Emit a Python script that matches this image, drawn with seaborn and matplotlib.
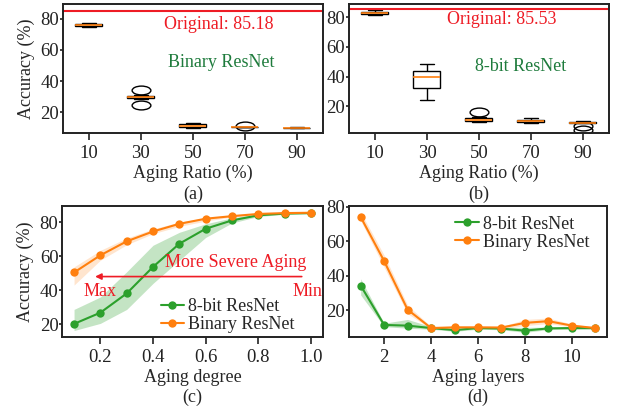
"""Aging robustness figure: box plots (a, b) and accuracy curves (c, d)."""
import matplotlib

matplotlib.use("Agg")
import matplotlib.pyplot as plt
import numpy as np
import pandas as pd
import seaborn as sns
from matplotlib.path import Path

# ---------- data ----------
ratios = ["10", "30", "50", "70", "90"]

# raw accuracy samples per aging ratio
binary_box = [
    [74.5, 75.1, 75.8, 76.5, 77.3],
    [24.3, 28.5, 29.2, 29.5, 29.9, 30.1, 30.3, 31.0, 34.5],
    [10.0, 10.6, 11.3, 12.2, 13.0],
    [10.3, 10.4, 10.4, 10.45, 10.5, 10.5, 10.55, 10.6, 11.0],
    [9.6, 9.8, 9.9, 10.0, 10.1],
]
int8_box = [
    [81.2, 82.3, 82.9, 83.4, 84.6],
    [24.0, 32.0, 39.7, 43.6, 48.1],
    [9.5, 9.8, 10.0, 10.5, 11.0, 11.5, 12.0, 12.5, 16.1],
    [9.0, 9.7, 10.2, 10.8, 12.3],
    [4.2, 6.5, 8.7, 8.9, 9.0, 9.2, 9.4, 9.8, 10.1],
]
binary_orig = 85.18
int8_orig = 85.53

degree = [0.1, 0.2, 0.3, 0.4, 0.5, 0.6, 0.7, 0.8, 0.9, 1.0]
int8_deg = [20.2, 26.8, 38.1, 53.7, 67.3, 76.1, 81.0, 84.0, 85.0, 85.3]
int8_deg_lo = [16.3, 20.5, 28.7, 44.0, 57.6, 71.0, 79.5, 83.3, 84.6, 85.0]
int8_deg_hi = [28.7, 36.0, 50.8, 66.4, 74.0, 79.0, 82.5, 84.8, 85.4, 85.6]
binary_deg = [50.4, 60.5, 68.7, 74.5, 79.0, 82.0, 83.5, 84.8, 85.3, 85.5]
binary_deg_lo = [43.0, 57.6, 66.7, 73.2, 77.5, 80.6, 83.0, 84.3, 85.0, 85.3]
binary_deg_hi = [53.7, 63.4, 70.6, 76.0, 80.0, 82.5, 84.2, 85.3, 85.6, 85.7]

layers = [1, 2, 3, 4, 5, 6, 7, 8, 9, 10, 11]
int8_lay = [34.4, 11.5, 11.1, 9.7, 8.5, 9.7, 9.4, 8.2, 9.5, 9.7, 9.7]
int8_lay_lo = [28.9, 10.5, 9.6, 9.0, 7.8, 9.0, 8.7, 7.2, 8.8, 9.0, 9.0]
int8_lay_hi = [38.3, 12.5, 14.7, 10.5, 9.2, 10.4, 10.1, 10.1, 10.2, 10.4, 10.4]
binary_lay = [74.2, 48.6, 20.4, 9.7, 10.1, 10.1, 10.0, 12.7, 13.7, 11.1, 9.7]
binary_lay_lo = [72.0, 45.0, 18.0, 9.3, 9.5, 9.5, 9.4, 11.1, 12.3, 10.3, 9.2]
binary_lay_hi = [77.0, 52.0, 23.0, 10.5, 10.7, 10.7, 10.6, 14.7, 15.5, 12.0, 10.3]

# ---------- style ----------
sns.set_style("ticks")
plt.rcParams["font.family"] = ["Liberation Serif", "DejaVu Serif"]
plt.rcParams.update({
    "font.size": 13,
    "axes.linewidth": 1.4,
    "axes.edgecolor": "#222222",
    "xtick.color": "#222222",
    "ytick.color": "#222222",
    "xtick.major.size": 5,
    "ytick.major.size": 2.2,
    "xtick.major.pad": 3.5,
    "ytick.major.pad": 0.5,
    "xtick.major.width": 1.2,
    "ytick.major.width": 1.2,
    "xtick.labelsize": 13.5,
    "ytick.labelsize": 13.5,
    "axes.labelsize": 13,
})

GREEN = "#2ca02c"
ORANGE = "#ff7f0e"
RED = "#ee1c25"
DKGREEN = "#1e7b3c"

circle = Path.unit_circle()
ellipse = Path(circle.vertices * np.array([1.0, 0.47]), circle.codes)

fig = plt.figure(figsize=(6.22, 4.07), dpi=100)
ax_a = fig.add_axes([0.101, 0.673, 0.418, 0.317])
ax_b = fig.add_axes([0.561, 0.673, 0.418, 0.317])
ax_c = fig.add_axes([0.100, 0.172, 0.419, 0.322])
ax_d = fig.add_axes([0.561, 0.172, 0.415, 0.322])


def box_panel(ax, samples, orig, name, caption, name_xy, orig_xy, ylim):
    df = pd.DataFrame(
        [(r, v) for r, vals in zip(ratios, samples) for v in vals],
        columns=["ratio", "acc"],
    )
    sns.boxplot(
        data=df, x="ratio", y="acc", order=ratios, ax=ax,
        color="white", linecolor="black", linewidth=1.0, width=0.52,
        medianprops=dict(color=ORANGE, linewidth=1.2),
        flierprops=dict(marker=ellipse, markersize=13.5,
                        markerfacecolor="none", markeredgecolor="black",
                        markeredgewidth=1.0),
    )
    ax.axhline(orig, color=RED, lw=1.5)
    ax.text(*orig_xy, f"Original: {orig:.2f}", color=RED, ha="center",
            va="center", fontsize=13)
    ax.text(*name_xy, name, color=DKGREEN, ha="center", va="center",
            fontsize=13)
    ax.set_xlim(-0.5, 4.5)
    ax.set_ylim(*ylim)
    ax.set_yticks([20, 40, 60, 80])
    ax.set_xlabel(f"Aging Ratio (%)\n{caption}", labelpad=2, linespacing=1.25)
    ax.set_ylabel("")


box_panel(ax_a, binary_box, binary_orig, "Binary ResNet", "(a)",
          (2.54, 51.6), (2.5, 76.5), (6.5, 89.5))
box_panel(ax_b, int8_box, int8_orig, "8-bit ResNet", "(b)",
          (2.8, 47.0), (2.44, 78.5), (2.0, 88.7))
ax_a.set_ylabel("Accuracy (%)", labelpad=4)


def curve_panel(ax, x, series):
    for label, mean, lo, hi, color, alpha in series:
        ax.fill_between(x, lo, hi, color=color, alpha=alpha, lw=0)
        sns.lineplot(x=x, y=mean, ax=ax, color=color, marker="o",
                     markersize=6, markeredgewidth=0, lw=1.5, label=label)


curve_panel(ax_c, degree, [
    ("8-bit ResNet", int8_deg, int8_deg_lo, int8_deg_hi, GREEN, 0.28),
    ("Binary ResNet", binary_deg, binary_deg_lo, binary_deg_hi, ORANGE, 0.2),
])
ax_c.set_xlim(0.055, 1.045)
ax_c.set_ylim(12.5, 89.5)
ax_c.set_xticks([0.2, 0.4, 0.6, 0.8, 1.0])
ax_c.set_yticks([20, 40, 60, 80])
ax_c.set_xlabel("Aging degree\n(c)", labelpad=2, linespacing=1.25)
ax_c.set_ylabel("Accuracy (%)", labelpad=4)
ax_c.annotate("", xy=(0.18, 48), xytext=(0.965, 48),
              arrowprops=dict(arrowstyle="-|>", color=RED, lw=1.2,
                              mutation_scale=9, shrinkA=0, shrinkB=0))
ax_c.text(0.445, 56, "More Severe Aging", color=RED, ha="left",
          va="center", fontsize=13)
ax_c.text(0.2, 39, "Max", color=RED, ha="center", va="center", fontsize=13)
ax_c.text(0.985, 39, "Min", color=RED, ha="center", va="center", fontsize=13)
ax_c.legend(loc="lower left", bbox_to_anchor=(0.35, -0.025), frameon=False,
            handlelength=1.3, handletextpad=0.2, labelspacing=0.05,
            borderaxespad=0, fontsize=13)

curve_panel(ax_d, layers, [
    ("8-bit ResNet", int8_lay, int8_lay_lo, int8_lay_hi, GREEN, 0.28),
    ("Binary ResNet", binary_lay, binary_lay_lo, binary_lay_hi, ORANGE, 0.2),
])
ax_d.set_xlim(0.5, 11.5)
ax_d.set_ylim(4.5, 80.6)
ax_d.set_xticks([2, 4, 6, 8, 10])
ax_d.set_yticks([20, 40, 60, 80])
ax_d.set_xlabel("Aging layers\n(d)", labelpad=2, linespacing=1.25)
ax_d.set_ylabel("")
ax_d.legend(loc="upper right", bbox_to_anchor=(0.958, 0.98), frameon=False,
            handlelength=1.3, handletextpad=0.2, labelspacing=0.05,
            borderaxespad=0, fontsize=13)

fig.savefig("out.png", dpi=100)
plt.close(fig)
